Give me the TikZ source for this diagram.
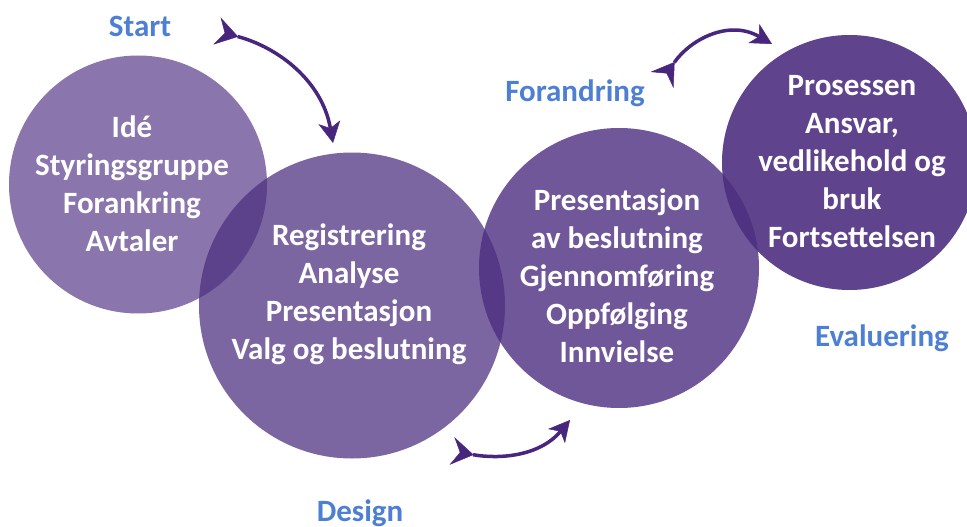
\documentclass[tikz,border=0pt]{standalone}
\usepackage{fontspec}
\setmainfont{Carlito}
\usetikzlibrary{arrows.meta}
\definecolor{lilla}{RGB}{75,45,127}
\definecolor{pilfarge}{RGB}{72,38,125}
\definecolor{blaa}{RGB}{77,127,210}

\begin{document}
\begin{tikzpicture}[x=1pt,y=1pt,
    fase/.style={circle,fill=lilla,inner sep=0pt},
    tekst/.style={text=white,align=center,font=\fontsize{31}{38}\selectfont\bfseries},
    etikett/.style={text=blaa,font=\fontsize{31}{38}\selectfont\bfseries},
    pil/.style={color=pilfarge,line width=3.5pt,
      {Stealth[reversed,line width=0.5pt,length=22pt,width=28pt,inset=8pt]}-{Stealth[line width=0.5pt,length=21pt,width=22pt,inset=6pt]}}]
    \useasboundingbox (0,0) rectangle (967,-527);
    \node[fase,fill opacity=0.65,minimum size=258pt](Ide) at (138,-184.5) {};
    \node[fase,fill opacity=0.73,minimum size=306pt](Reg) at (352,-305.5) {};
    \node[fase,fill opacity=0.80,minimum size=280pt](Pres) at (619,-268) {};
    \node[fase,fill opacity=0.89,minimum size=255pt](Pros) at (849.5,-162.5) {};
    \node[tekst](Ide') at (132,-184) {Idé\\Styringsgruppe\\Forankring\\Avtaler};
    \node[tekst](Reg') at (349,-294) {Registrering\\Analyse\\Presentasjon\\Valg og beslutning};
    \node[tekst](Pres') at (617,-276) {Presentasjon\\av beslutning\\Gjennomføring\\Oppfølging\\Innvielse};
    \node[tekst](Pros') at (852,-162) {Prosessen\\Ansvar,\\vedlikehold og\\bruk\\Fortsettelsen};
    \node[etikett](Start) at (140,-26) {Start};
    \node[etikett](Forandring) at (575,-93) {Forandring};
    \node[etikett](Evaluering) at (882,-338) {Evaluering};
    \node[etikett](Design) at (360,-513) {Design};
    \coordinate(s1) at (217,-31);
    \coordinate(e1) at (333,-143);
    \coordinate(s2) at (452,-451);
    \coordinate(e2) at (570,-420);
    \coordinate(s3) at (662,-80);
    \coordinate(e3) at (772,-44);
    \path (s1) edge[pil,out=-15,in=100] (e1);
    \path (s2) edge[pil,out=-10,in=-130] (e2);
    \path (s3) edge[pil,out=55,in=150,looseness=1.1] (e3);
  \end{tikzpicture}
\end{document}
